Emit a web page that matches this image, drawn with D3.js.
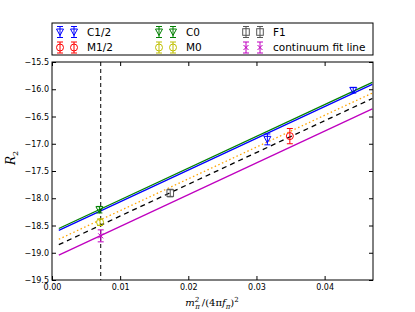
<!DOCTYPE html>
<html>
<head>
<meta charset="utf-8">
<script src="https://cdn.jsdelivr.net/npm/d3@7"></script>
<style>
  body { margin: 0; background: #fff; }
  svg { display: block; font-family: "DejaVu Sans", sans-serif; }
</style>
</head>
<body>
<svg id="chart" width="415" height="312"></svg>
<script>
// axis ticks
const xTicks = [0, 0.01, 0.02, 0.03, 0.04];
const yTicks = [-19.5, -19, -18.5, -18, -17.5, -17, -16.5, -16, -15.5];

// data points (x, y, error)
const c12X = [0.0316, 0.0442];
const c12Y = [-16.92, -16.02];
const c12Err = [0.10, 0.05];
const m12X = [0.0349];
const m12Y = [-16.86];
const m12Err = [0.14];
const c0X = [0.00696];
const c0Y = [-18.21];
const c0Err = [0.06];
const m0X = [0.00705];
const m0Y = [-18.44];
const m0Err = [0.06];
const f1X = [0.01735];
const f1Y = [-17.905];
const f1Err = [0.07];
const contX = [0.00715];
const contY = [-18.69];
const contErr = [0.11];

// fit lines, values at the two ends
const fitX = [0.001, 0.047];
const fitC12 = [-18.59, -15.91];
const fitC0 = [-18.555, -15.875];
const fitM0 = [-18.752, -16.07];
const fitF1 = [-18.852, -16.17];
const fitCont = [-19.042, -16.36];

// physical point
const physX = 0.00715;

const svg = d3.select("#chart");
const margin = { left: 52, right: 42, top: 62, bottom: 32 };
const W = 415, H = 312;

const x = d3.scaleLinear().domain([0, 0.0471]).range([margin.left, W - margin.right]);
const y = d3.scaleLinear().domain([-19.5, -15.5]).range([H - margin.bottom, margin.top]);

svg.append("rect").attr("width", W).attr("height", H).attr("fill", "#fff");

svg.append("clipPath").attr("id", "clip")
  .append("rect")
  .attr("x", margin.left).attr("y", margin.top)
  .attr("width", W - margin.left - margin.right)
  .attr("height", H - margin.top - margin.bottom);

const plot = svg.append("g").attr("clip-path", "url(#clip)");

// fit lines (green under blue)
const line = d3.line().x((d) => x(d[0])).y((d) => y(d[1]));
const fits = [
  { vals: fitC0, color: "#008000", dash: null },
  { vals: fitC12, color: "#0000ff", dash: null },
  { vals: fitM0, color: "#ffa500", dash: "1.5,2.5" },
  { vals: fitF1, color: "#000", dash: "5,4" },
  { vals: fitCont, color: "#bf00bf", dash: null },
];
plot.selectAll("path.fit")
  .data(fits)
  .join("path")
  .attr("class", "fit")
  .attr("d", (f) => line(fitX.map((v, i) => [v, f.vals[i]])))
  .attr("fill", "none")
  .attr("stroke", (f) => f.color)
  .attr("stroke-width", 1.3)
  .attr("stroke-dasharray", (f) => f.dash);

// vertical dashed line at physical point
plot.append("line")
  .attr("x1", x(physX)).attr("x2", x(physX))
  .attr("y1", margin.top).attr("y2", H - margin.bottom)
  .attr("stroke", "#000")
  .attr("stroke-width", 1)
  .attr("stroke-dasharray", "4,3");

// marker drawing
function marker(g, shape, color) {
  if (shape === "tri") {
    g.append("path").attr("d", "M-3.5,-3 L3.5,-3 L0,3.5 Z")
      .attr("fill", "none").attr("stroke", color).attr("stroke-width", 1);
  } else if (shape === "circle") {
    g.append("circle").attr("r", 3.5)
      .attr("fill", "none").attr("stroke", color).attr("stroke-width", 1);
  } else if (shape === "square") {
    g.append("rect").attr("x", -3.3).attr("y", -3.3).attr("width", 6.6).attr("height", 6.6)
      .attr("fill", "none").attr("stroke", color).attr("stroke-width", 1);
  } else if (shape === "x") {
    g.append("path").attr("d", "M-2.5,-2.5 L2.5,2.5 M-2.5,2.5 L2.5,-2.5")
      .attr("stroke", color).attr("stroke-width", 1);
  }
}

function errbar(g, top, bot, color) {
  g.append("line").attr("x1", 0).attr("x2", 0).attr("y1", top).attr("y2", bot)
    .attr("stroke", color).attr("stroke-width", 1);
  [top, bot].forEach((v) => {
    g.append("line").attr("x1", -3).attr("x2", 3).attr("y1", v).attr("y2", v)
      .attr("stroke", color).attr("stroke-width", 1);
  });
}

const series = [
  { name: "C1/2", xs: c12X, ys: c12Y, es: c12Err, color: "#0000ff", shape: "tri" },
  { name: "M1/2", xs: m12X, ys: m12Y, es: m12Err, color: "#ff0000", shape: "circle" },
  { name: "C0", xs: c0X, ys: c0Y, es: c0Err, color: "#008000", shape: "tri" },
  { name: "M0", xs: m0X, ys: m0Y, es: m0Err, color: "#bfbf00", shape: "circle" },
  { name: "F1", xs: f1X, ys: f1Y, es: f1Err, color: "#555555", shape: "square" },
  { name: "continuum fit line", xs: contX, ys: contY, es: contErr, color: "#bf00bf", shape: "x" },
];

series.forEach((s) => {
  s.xs.forEach((xv, i) => {
    const g = svg.append("g").attr("transform", `translate(${x(xv)},${y(s.ys[i])})`);
    const top = y(s.ys[i] + s.es[i]) - y(s.ys[i]);
    const bot = y(s.ys[i] - s.es[i]) - y(s.ys[i]);
    errbar(g, top, bot, s.color);
    marker(g, s.shape, s.color);
  });
});

// axes, ticks inward on all sides
const fmtX = (d) => d3.format(".2f")(d);
const fmtY = (d) => d3.format(".1f")(d).replace("-", "\u2212");

const axB = svg.append("g").attr("transform", `translate(0,${H - margin.bottom})`)
  .call(d3.axisBottom(x).tickValues(xTicks).tickFormat(fmtX).tickSizeInner(-4).tickSizeOuter(0).tickPadding(4));
const axT = svg.append("g").attr("transform", `translate(0,${margin.top})`)
  .call(d3.axisTop(x).tickValues(xTicks).tickFormat("").tickSizeInner(-4).tickSizeOuter(0));
const axL = svg.append("g").attr("transform", `translate(${margin.left},0)`)
  .call(d3.axisLeft(y).tickValues(yTicks).tickFormat(fmtY).tickSizeInner(-4).tickSizeOuter(0).tickPadding(3));
const axR = svg.append("g").attr("transform", `translate(${W - margin.right},0)`)
  .call(d3.axisRight(y).tickValues(yTicks).tickFormat("").tickSizeInner(-4).tickSizeOuter(0));

[axB, axT, axL, axR].forEach((a) => {
  a.select(".domain").remove();
  a.selectAll("text").attr("font-size", 8).attr("font-family", "DejaVu Sans").attr("fill", "#000");
  a.selectAll("line").attr("stroke", "#000");
});

svg.append("rect")
  .attr("x", margin.left).attr("y", margin.top)
  .attr("width", W - margin.left - margin.right)
  .attr("height", H - margin.top - margin.bottom)
  .attr("fill", "none").attr("stroke", "#000").attr("stroke-width", 1);

// axis labels
const xl = svg.append("text")
  .attr("x", 212).attr("y", 306)
  .attr("text-anchor", "middle")
  .attr("font-family", "DejaVu Serif")
  .attr("font-style", "italic")
  .attr("font-size", 10);
xl.append("tspan").text("m");
xl.append("tspan").attr("font-size", 7).attr("dy", -4).text("2");
xl.append("tspan").attr("font-size", 7).attr("dx", -4).attr("dy", 7).text("π");
xl.append("tspan").attr("dy", -3).attr("dx", 2).attr("font-style", "normal").text("/(4π");
xl.append("tspan").text("f");
xl.append("tspan").attr("font-size", 7).attr("dy", 3).text("π");
xl.append("tspan").attr("dy", -3).attr("font-style", "normal").text(")");
xl.append("tspan").attr("font-size", 7).attr("dy", -4).attr("font-style", "normal").text("2");

const yl = svg.append("text")
  .attr("transform", "translate(15,158) rotate(-90)")
  .attr("text-anchor", "middle")
  .attr("font-family", "DejaVu Serif")
  .attr("font-style", "italic")
  .attr("font-size", 12);
yl.append("tspan").text("R");
yl.append("tspan").attr("font-size", 8).attr("dy", 3).attr("font-style", "normal").text("2");

// legend
const legend = svg.append("g");
legend.append("rect")
  .attr("x", margin.left).attr("y", 23)
  .attr("width", W - margin.left - margin.right).attr("height", 32)
  .attr("fill", "#fff").attr("stroke", "#000").attr("stroke-width", 1);

const colX = [60, 159, 246];
const rowY = [32, 47.5];
series.forEach((s, i) => {
  const col = Math.floor(i / 2), row = i % 2;
  const cx = colX[col], cy = rowY[row];
  [0, 14].forEach((dx) => {
    const g = legend.append("g").attr("transform", `translate(${cx + dx},${cy})`);
    errbar(g, -5.5, 5.5, s.color);
    marker(g, s.shape, s.color);
  });
  legend.append("text")
    .attr("x", cx + 27).attr("y", cy + 3.8)
    .attr("font-size", 10.5)
    .attr("fill", "#000")
    .text(s.name);
});
</script>
</body>
</html>
